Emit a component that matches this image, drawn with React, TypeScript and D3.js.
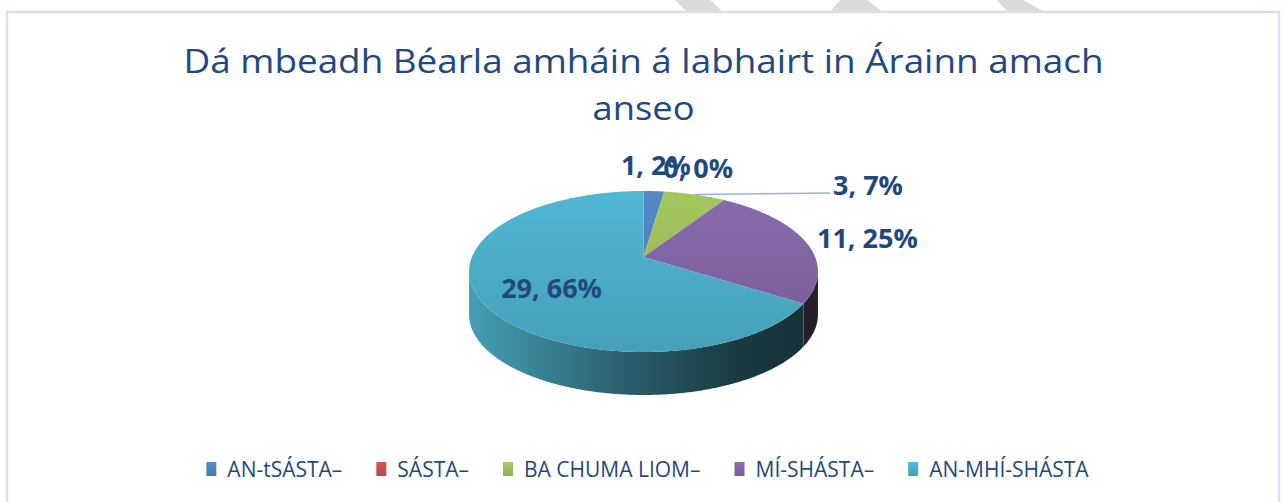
import React, { useEffect, useRef } from "react";
import * as d3 from "d3";

// ---------- data ----------
const categories = ["AN-tSÁSTA–", "SÁSTA–", "BA CHUMA LIOM–", "MÍ-SHÁSTA–", "AN-MHÍ-SHÁSTA"];
const values = [1, 0, 3, 11, 29];
const titleLines = ["Dá mbeadh Béarla amháin á labhairt in Árainn amach", "anseo"];
const sliceColors = ["#4f81bd", "#c0504d", "#9bbb59", "#8064a2", "#4bacc6"];

// ---------- layout ----------
const W = 1282;
const H = 502;
const CX = 643.5;
const CY = 257;
const RX = 171.6;
const RY = 77.9;
const PERSP = 0.18;
const DEPTH = 43;
const LABEL_FONT = 27;
const TEXT_BLUE = "#1f497d";

// label placement per slice (layout only)
const labelPlacement = [
  { mode: "above", dx: 2, dy: -16, anchor: "middle" },
  { mode: "above", dx: -1, dy: -14, anchor: "start" },
  { mode: "leader", lx: 830, dx: 3, dy: 0, anchor: "start" },
  { mode: "side", dx: 12, dy: 7, anchor: "start" },
  { mode: "inside", r: 0.55, dx: -5, dy: 19, anchor: "middle" },
];

function project(theta: number, r = 1, yOff = 0): [number, number] {
  const u = r * Math.sin(theta);
  const v = r * Math.cos(theta);
  const f = 1 / (1 + PERSP * v);
  return [CX + RX * u * f, CY - RY * v * f + yOff];
}

function arcPts(a0: number, a1: number, r = 1, yOff = 0): [number, number][] {
  const n = Math.max(2, Math.ceil(Math.abs(a1 - a0) / (Math.PI / 360)) + 1);
  const pts: [number, number][] = [];
  for (let i = 0; i < n; i++) {
    const t = a0 + ((a1 - a0) * i) / (n - 1);
    pts.push(project(t, r, yOff));
  }
  return pts;
}

export default function App() {
  const ref = useRef<SVGSVGElement>(null);

  useEffect(() => {
    document.body.style.margin = "0";
    document.body.style.overflow = "hidden";
    const svg = d3.select(ref.current!);
    svg.selectAll("*").remove();
    const defs = svg.append("defs");

    // background + stripes above frame
    svg.append("rect").attr("width", W).attr("height", H).attr("fill", "#ffffff");
    const stripes: [number, number][][] = [
      [[675, 0], [710, 0], [723, 12], [687, 12]],
      [[840, 0], [867, 0], [883, 12], [830, 12]],
      [[997, 0], [1023, 0], [1045, 12], [1008, 12]],
    ];
    svg
      .selectAll("path.stripe")
      .data(stripes)
      .join("path")
      .attr("class", "stripe")
      .attr("d", (d) => d3.line()(d)! + "Z")
      .attr("fill", "#dadada");

    // frame
    svg
      .append("rect")
      .attr("x", 7)
      .attr("y", 12)
      .attr("width", 1272)
      .attr("height", 600)
      .attr("fill", "#ffffff")
      .attr("stroke", "#d3e0f1")
      .attr("stroke-width", 2.5);

    // title
    const title = svg
      .append("g")
      .attr("font-family", "'Open Sans', 'Noto Sans', sans-serif")
      .attr("font-size", 32)
      .attr("fill", "#22497f");
    title
      .selectAll("text")
      .data(titleLines)
      .join("text")
      .attr("x", CX)
      .attr("y", (_, i) => 73 + i * 47)
      .attr("text-anchor", "middle")
      .attr("textLength", (_, i) => (i === 0 ? 920 : 102))
      .attr("lengthAdjust", "spacingAndGlyphs")
      .text((d) => d);

    // pie
    const pie = d3
      .pie<number>()
      .sort(null)
      .value((d) => d)
      .startAngle(0)
      .endAngle(2 * Math.PI);
    const arcs = pie(values);

    // gradients for top faces
    sliceColors.forEach((c, i) => {
      const g = defs
        .append("linearGradient")
        .attr("id", `top${i}`)
        .attr("gradientUnits", "userSpaceOnUse")
        .attr("x1", 0)
        .attr("y1", CY - RY * 0.85)
        .attr("x2", 0)
        .attr("y2", CY + RY * 1.2);
      g.append("stop").attr("offset", 0).attr("stop-color", d3.color(c)!.brighter(0.18).formatHex());
      g.append("stop").attr("offset", 1).attr("stop-color", d3.color(c)!.darker(0.2).formatHex());
      const lg = defs
        .append("linearGradient")
        .attr("id", `leg${i}`)
        .attr("x1", 0)
        .attr("y1", 0)
        .attr("x2", 0)
        .attr("y2", 1);
      lg.append("stop").attr("offset", 0).attr("stop-color", d3.color(c)!.brighter(0.25).formatHex());
      lg.append("stop").attr("offset", 1).attr("stop-color", d3.color(c)!.darker(0.2).formatHex());
    });

    // side gradients
    const xL = CX - RX * 1.0166;
    const xR = CX + RX * 1.0166;
    sliceColors.forEach((c, i) => {
      const g = defs
        .append("linearGradient")
        .attr("id", `side${i}`)
        .attr("gradientUnits", "userSpaceOnUse")
        .attr("x1", xL)
        .attr("y1", 0)
        .attr("x2", xR)
        .attr("y2", 0);
      const base = d3.hsl(c);
      const stops: [number, number][] = [
        [0, 0.92],
        [0.15, 0.8],
        [0.45, 0.55],
        [0.78, 0.33],
        [0.9, 0.3],
        [1, 0.28],
      ];
      stops.forEach(([o, k]) => {
        const h = d3.hsl(base.h, base.s * (i === 3 ? 0.7 : 0.85), base.l * k);
        g.append("stop").attr("offset", o).attr("stop-color", h.formatHex());
      });
    });

    const thR = Math.acos(-PERSP);
    const thL = 2 * Math.PI - thR;

    // sides
    arcs.forEach((a, i) => {
      const s = Math.max(a.startAngle, thR);
      const e = Math.min(a.endAngle, thL);
      if (e <= s) return;
      const top = arcPts(s, e, 1, 0);
      const bot = arcPts(e, s, 1, DEPTH);
      svg
        .append("path")
        .attr("d", d3.line()([...top, ...bot])! + "Z")
        .attr("fill", `url(#side${i})`);
    });

    // top faces
    arcs.forEach((a, i) => {
      if (a.endAngle - a.startAngle <= 0) return;
      const pts = [project(0, 0), ...arcPts(a.startAngle, a.endAngle)];
      svg
        .append("path")
        .attr("d", d3.line()(pts)! + "Z")
        .attr("fill", `url(#top${i})`);
    });

    // labels
    const total = d3.sum(values);
    const lab = svg
      .append("g")
      .attr("font-family", "'Open Sans', 'Noto Sans', sans-serif")
      .attr("font-size", LABEL_FONT)
      .attr("font-weight", 700)
      .attr("fill", TEXT_BLUE);
    arcs.forEach((a, i) => {
      const p = labelPlacement[i] as any;
      const mid = (a.startAngle + a.endAngle) / 2;
      const pctTxt = `${values[i]}, ${Math.round((values[i] / total) * 100)}%`;
      let x = 0;
      let y = 0;
      if (p.mode === "inside") {
        const q = project(mid, p.r);
        x = q[0] + p.dx;
        y = q[1] + p.dy;
      } else if (p.mode === "leader") {
        const q = project(mid, 1);
        svg
          .append("line")
          .attr("x1", q[0])
          .attr("y1", q[1])
          .attr("x2", p.lx)
          .attr("y2", q[1] - 1.5)
          .attr("stroke", "#8eb4e3")
          .attr("stroke-width", 1.5);
        x = p.lx + p.dx;
        y = q[1] + p.dy;
      } else {
        const q = project(mid, 1);
        x = q[0] + p.dx;
        y = q[1] + p.dy;
      }
      lab
        .append("text")
        .attr("x", x)
        .attr("y", y)
        .attr("text-anchor", p.anchor)
        .text(pctTxt);
    });

    // legend
    const leg = svg
      .append("g")
      .attr("font-family", "'Open Sans', 'Noto Sans', sans-serif")
      .attr("font-size", 21)
      .attr("fill", "#23497c");
    const items = leg
      .selectAll("g")
      .data(categories)
      .join("g");
    items
      .append("rect")
      .attr("width", 10)
      .attr("height", 14)
      .attr("y", 462)
      .attr("fill", (_, i) => `url(#leg${i})`);
    const texts = items
      .append("text")
      .attr("y", 476.5)
      .text((d) => d);
    const widths: number[] = [];
    texts.each(function () {
      widths.push((this as SVGTextElement).getComputedTextLength());
    });
    const swGap = 21;
    const itemGap = 34;
    const totalW = d3.sum(widths) + swGap * widths.length + itemGap * (widths.length - 1);
    let xPos = 647.5 - totalW / 2;
    items.each(function (_, i) {
      d3.select(this).attr("transform", `translate(${xPos},0)`);
      d3.select(this).select("text").attr("x", swGap);
      xPos += swGap + widths[i] + itemGap;
    });
  }, []);

  return (
    <svg
      ref={ref}
      width={W}
      height={H}
      style={{ position: "absolute", left: 0, top: 0, display: "block" }}
    />
  );
}
